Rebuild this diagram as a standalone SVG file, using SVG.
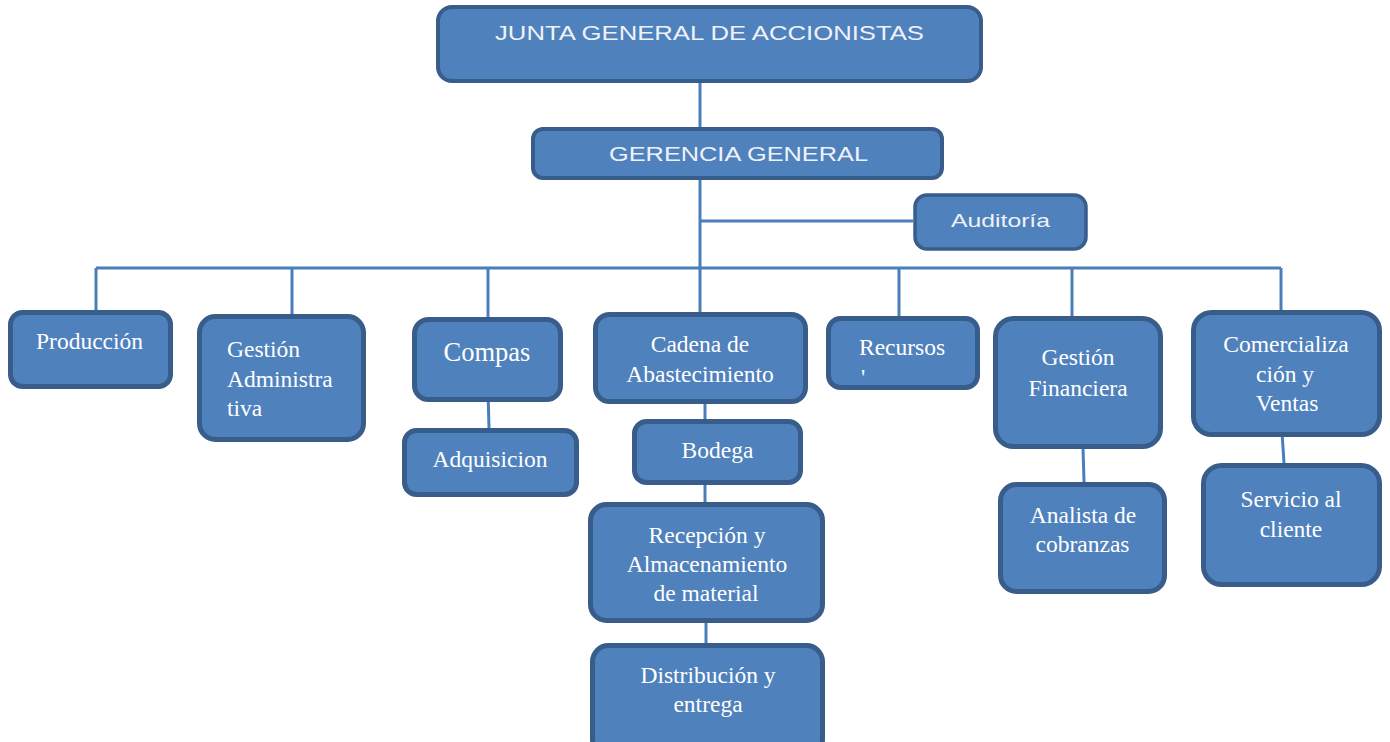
<svg xmlns="http://www.w3.org/2000/svg" width="1390" height="742" viewBox="0 0 1390 742">
<style>
.box{fill:#4F81BD;stroke:#385D8A;stroke-width:5}
.hbox{fill:#4F81BD;stroke:#385D8A;stroke-width:4}
.sans{font-family:"Liberation Sans",Arial,sans-serif;fill:#EEF2F8;font-size:21px}
.serif{font-family:"Liberation Serif","Times New Roman",serif;fill:#FFFFFF;font-size:23.5px}
.mid{text-anchor:middle}
.conn{stroke:#4A7EBB;stroke-width:3;fill:none}
</style>
<rect width="1390" height="742" fill="#FFFFFF"/>
<g id="connectors" class="conn">
<path d="M700 83V127"/>
<path d="M700 180V312"/>
<path d="M700 221H913"/>
<path d="M96 268H1281"/>
<path d="M96 268V310"/>
<path d="M292 268V314"/>
<path d="M488 268V317"/>
<path d="M899 268V316"/>
<path d="M1072 268V316"/>
<path d="M1281 268V310"/>
<path d="M488 390L489 428"/>
<path d="M705 404V419"/>
<path d="M705 485V502"/>
<path d="M706 623V643"/>
<path d="M1083 447L1084 482"/>
<path d="M1282 432L1284 463"/>
</g>
<g id="junta">
<rect class="hbox" x="438" y="7" width="543" height="74" rx="14"/>
<text class="sans" x="495" y="40" textLength="429" lengthAdjust="spacingAndGlyphs">JUNTA GENERAL DE ACCIONISTAS</text>
</g>
<g id="gerencia">
<rect class="hbox" x="533" y="129" width="409" height="49" rx="10"/>
<text class="sans" x="609" y="161" textLength="259" lengthAdjust="spacingAndGlyphs">GERENCIA GENERAL</text>
</g>
<g id="auditoria">
<rect class="hbox" x="915" y="195" width="171" height="54" rx="12" style="stroke-width:3.5"/>
<text class="sans" x="951" y="227" style="font-size:19px" textLength="99" lengthAdjust="spacingAndGlyphs">Auditoría</text>
</g>
<g id="produccion">
<rect class="box" x="10.5" y="312.5" width="160" height="74" rx="12"/>
<text class="serif" x="36" y="349">Producción</text>
</g>
<g id="gestion-administrativa">
<rect class="box" x="199.5" y="316.5" width="164" height="123" rx="16"/>
<text class="serif" x="227" y="357">Gestión</text>
<text class="serif" x="227" y="387">Administra</text>
<text class="serif" x="227" y="416">tiva</text>
</g>
<g id="compas">
<rect class="box" x="414.5" y="319.5" width="146" height="80" rx="14"/>
<text class="serif mid" x="487" y="361" style="font-size:26.5px">Compas</text>
</g>
<g id="adquisicion">
<rect class="box" x="404.5" y="430.5" width="172" height="64" rx="12"/>
<text class="serif mid" x="490" y="467">Adquisicion</text>
</g>
<g id="cadena">
<rect class="box" x="595.5" y="314.5" width="210" height="87" rx="14"/>
<text class="serif mid" x="700" y="352">Cadena de</text>
<text class="serif mid" x="700" y="382">Abastecimiento</text>
</g>
<g id="bodega">
<rect class="box" x="634.5" y="421.5" width="166" height="61" rx="12"/>
<text class="serif mid" x="717.5" y="458">Bodega</text>
</g>
<g id="recepcion">
<rect class="box" x="590.5" y="504.5" width="232" height="116" rx="16"/>
<text class="serif mid" x="707" y="543">Recepción y</text>
<text class="serif mid" x="707" y="572">Almacenamiento</text>
<text class="serif mid" x="706" y="601">de material</text>
</g>
<g id="distribucion">
<rect class="box" x="592.5" y="645.5" width="230" height="110" rx="16"/>
<text class="serif mid" x="708" y="683">Distribución y</text>
<text class="serif mid" x="708" y="712">entrega</text>
</g>
<g id="recursos">
<rect class="box" x="828.5" y="318.5" width="149" height="69" rx="12"/>
<text class="serif" x="859" y="355">Recursos</text>
<text class="serif" x="861" y="385">'</text>
</g>
<g id="gestion-financiera">
<rect class="box" x="995.5" y="318.5" width="165" height="128" rx="18"/>
<text class="serif mid" x="1078" y="365">Gestión</text>
<text class="serif mid" x="1078" y="396">Financiera</text>
</g>
<g id="analista">
<rect class="box" x="1000.5" y="484.5" width="164" height="107" rx="16"/>
<text class="serif mid" x="1083" y="523">Analista de</text>
<text class="serif mid" x="1082.5" y="552">cobranzas</text>
</g>
<g id="comercializacion">
<rect class="box" x="1193.5" y="312.5" width="186" height="122" rx="18"/>
<text class="serif mid" x="1286" y="352">Comercializa</text>
<text class="serif mid" x="1285" y="382">ción y</text>
<text class="serif mid" x="1287" y="411">Ventas</text>
</g>
<g id="servicio">
<rect class="box" x="1203.5" y="465.5" width="176" height="119" rx="18"/>
<text class="serif mid" x="1291" y="507">Servicio al</text>
<text class="serif mid" x="1291" y="537">cliente</text>
</g>
</svg>
